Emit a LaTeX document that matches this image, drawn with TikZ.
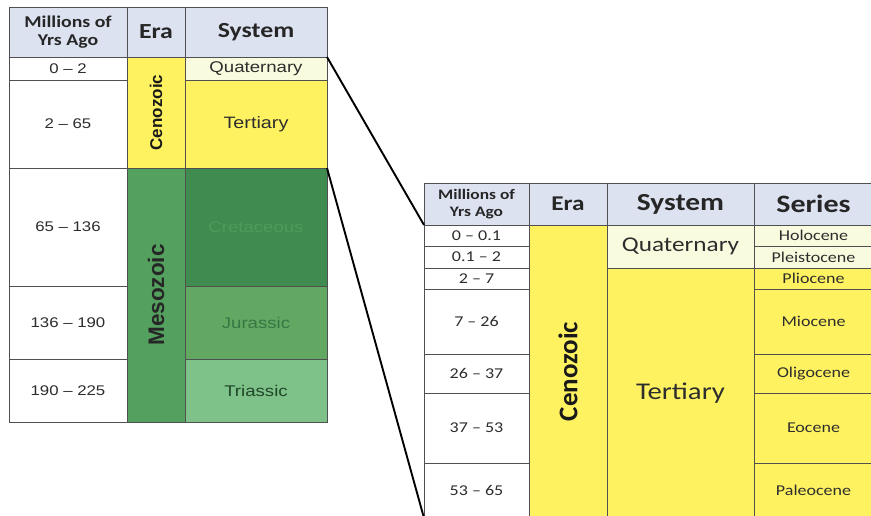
\documentclass[tikz,border=0pt]{standalone}
\usepackage{fontspec}
\setmainfont{Carlito}[FakeStretch=1.2]
\newfontfamily\arialfont{Liberation Sans}[FakeStretch=1.2]
\newfontfamily\arialrot{Liberation Sans}
\newfontfamily\calrot{Carlito}
\usepackage{tikz}
\usetikzlibrary{positioning}

\definecolor{hdrblue}{RGB}{220,226,240}
\definecolor{quatcream}{RGB}{249,251,222}
\definecolor{ceno}{RGB}{255,242,96}
\definecolor{meso}{RGB}{84,160,94}
\definecolor{creta}{RGB}{64,140,80}
\definecolor{jura}{RGB}{98,168,98}
\definecolor{trias}{RGB}{126,194,138}
\definecolor{gridgray}{RGB}{80,80,80}
\definecolor{txtgray}{RGB}{45,45,45}
\newcommand{\fsz}[2]{\fontsize{#1}{#2}\selectfont}

\begin{document}
\begin{tikzpicture}[x=1pt, y=-1pt,
    cell/.style={draw=gridgray, line width=0.9pt, inner sep=0pt, outer sep=0pt, text=txtgray},
    hdr/.style={cell, fill=hdrblue, text=black!85, align=center},
    lnum/.style={cell, fill=white, minimum width=118pt, font=\arialfont\fsz{14}{16}},
    lsys/.style={cell, minimum width=142pt, font=\arialfont\fsz{15.5}{18}},
    rnum/.style={cell, fill=white, minimum width=105pt, font=\fsz{15}{17}},
    rser/.style={cell, fill=ceno, minimum width=119pt, font=\fsz{15}{17}},
    conn/.style={draw=black, line width=1.9pt}]
    \clip (0,0) rectangle (871,516);

    % left table
    \node[hdr, minimum width=118pt, minimum height=50pt, anchor=north west, font=\bfseries\fsz{16.5}{18}] (lhA) at (9,7) {Millions of\\Yrs Ago};
    \node[hdr, minimum width=58pt, minimum height=50pt, font=\bfseries\fsz{21.5}{24}] (lhB) [right=0pt of lhA] {Era};
    \node[hdr, minimum width=142pt, minimum height=50pt, font=\bfseries\fsz{21.5}{24}] (lhC) [right=0pt of lhB] {System};

    \node[lnum, minimum height=23pt] (la1) [below=0pt of lhA] {0 – 2};
    \node[lnum, minimum height=88pt] (la2) [below=0pt of la1] {2 – 65};
    \node[lnum, minimum height=118pt] (la3) [below=0pt of la2] {65 – 136};
    \node[lnum, minimum height=73pt] (la4) [below=0pt of la3] {136 – 190};
    \node[lnum, minimum height=63pt] (la5) [below=0pt of la4] {190 – 225};

    \node[cell, fill=ceno, minimum width=58pt, minimum height=111pt, text=black!90, font=\arialrot\bfseries\fsz{17}{20}] (lb1) [below=0pt of lhB] {\rotatebox{90}{Cenozoic}};
    \node[cell, fill=meso, minimum width=58pt, minimum height=254pt, text=black!85, font=\arialrot\bfseries\fsz{22.5}{26}] (lb2) [below=0pt of lb1] {\rotatebox{90}{Mesozoic}};

    \node[lsys, fill=quatcream, minimum height=23pt] (lc1) [below=0pt of lhC] {Quaternary};
    \node[lsys, fill=ceno, minimum height=88pt, font=\arialfont\fsz{16.5}{19}] (lc2) [below=0pt of lc1] {Tertiary};
    \node[lsys, fill=creta, minimum height=118pt, text=meso!70!creta] (lc3) [below=0pt of lc2] {Cretaceous};
    \node[lsys, fill=jura, minimum height=73pt, text=creta!85!black] (lc4) [below=0pt of lc3] {Jurassic};
    \node[lsys, fill=trias, minimum height=63pt, text=creta!50!black] (lc5) [below=0pt of lc4] {Triassic};

    % right table
    \node[hdr, minimum width=105pt, minimum height=42pt, anchor=north west, font=\bfseries\fsz{14.5}{17}] (rhA) at (424,183) {Millions of\\Yrs Ago};
    \node[hdr, minimum width=78pt, minimum height=42pt, font=\bfseries\fsz{21}{24}] (rhB) [right=0pt of rhA] {Era};
    \node[hdr, minimum width=147pt, minimum height=42pt, font=\bfseries\fsz{24.5}{28}] (rhC) [right=0pt of rhB] {System};
    \node[hdr, minimum width=119pt, minimum height=42pt, font=\bfseries\fsz{25}{28}] (rhD) [right=0pt of rhC] {Series};

    \node[rnum, minimum height=21pt] (ra1) [below=0pt of rhA] {0 – 0.1};
    \node[rnum, minimum height=22pt] (ra2) [below=0pt of ra1] {0.1 – 2};
    \node[rnum, minimum height=21pt] (ra3) [below=0pt of ra2] {2 – 7};
    \node[rnum, minimum height=65pt] (ra4) [below=0pt of ra3] {7 – 26};
    \node[rnum, minimum height=39pt] (ra5) [below=0pt of ra4] {26 – 37};
    \node[rnum, minimum height=70pt] (ra6) [below=0pt of ra5] {37 – 53};
    \node[rnum, minimum height=55pt] (ra7) [below=0pt of ra6] {53 – 65};

    \node[cell, fill=ceno, minimum width=78pt, minimum height=293pt, text=black!90, font=\calrot\bfseries\fsz{27}{30}] (rb1) [below=0pt of rhB] {\rotatebox{90}{Cenozoic}};

    \node[cell, fill=quatcream, minimum width=147pt, minimum height=43pt, font=\fsz{21}{24}] (rc1) [below=0pt of rhC] {Quaternary};
    \node[cell, fill=ceno, minimum width=147pt, minimum height=250pt, font=\fsz{24}{28}] (rc2) [below=0pt of rc1] {Tertiary};

    \node[rser, fill=quatcream, minimum height=21pt] (rd1) [below=0pt of rhD] {Holocene};
    \node[rser, fill=quatcream, minimum height=22pt] (rd2) [below=0pt of rd1] {Pleistocene};
    \node[rser, minimum height=21pt] (rd3) [below=0pt of rd2] {Pliocene};
    \node[rser, minimum height=65pt] (rd4) [below=0pt of rd3] {Miocene};
    \node[rser, minimum height=39pt] (rd5) [below=0pt of rd4] {Oligocene};
    \node[rser, minimum height=70pt] (rd6) [below=0pt of rd5] {Eocene};
    \node[rser, minimum height=55pt] (rd7) [below=0pt of rd6] {Paleocene};

    % zoom lines
    \draw[conn] (lc1.north east) -- (rhA.south west);
    \draw[conn] (lc3.north east) -- (ra7.south west);

\end{tikzpicture}
\end{document}
